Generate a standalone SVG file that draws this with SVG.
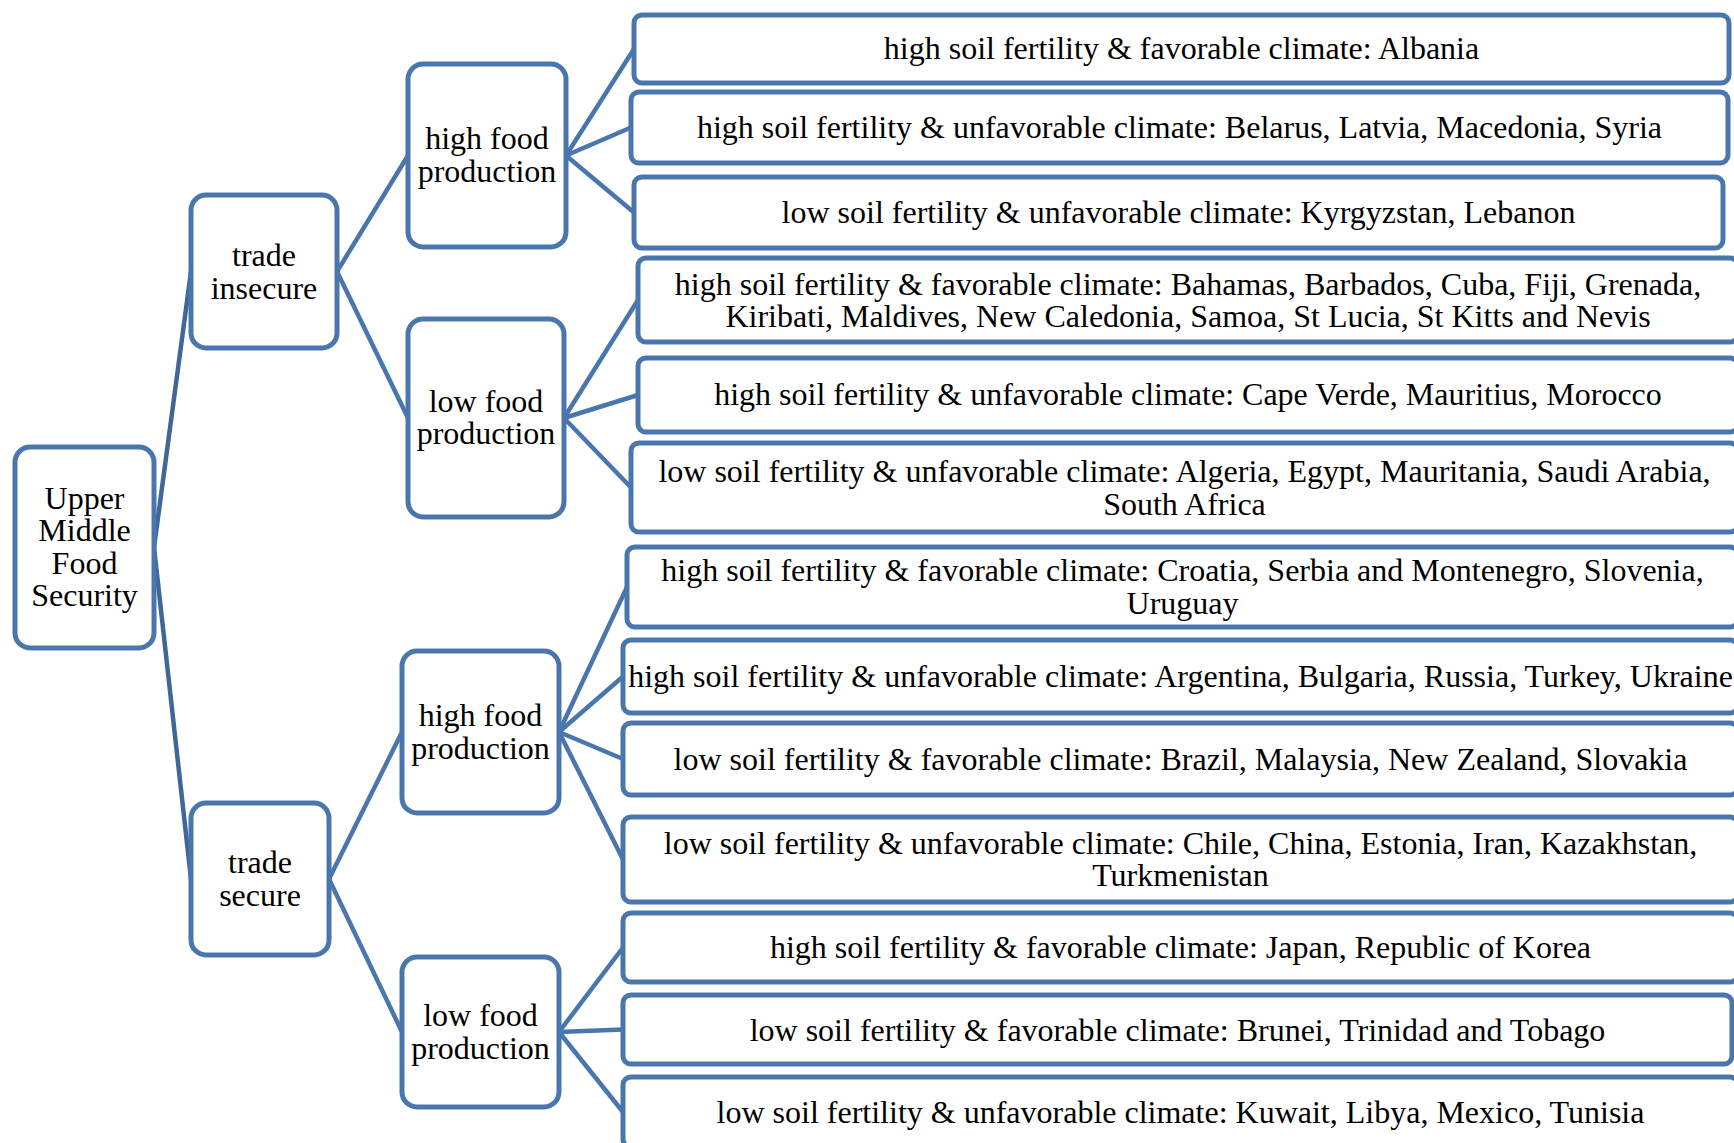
<svg xmlns="http://www.w3.org/2000/svg" width="1734" height="1143" viewBox="0 0 1734 1143">
<style>
.box{fill:#ffffff;stroke:#4A76AE;stroke-width:5}
.conn line{stroke:#4A76AE;stroke-width:4.5;stroke-linecap:round}
.conn line.root{stroke:#3F6898}
text{font-family:"Liberation Serif","Times New Roman",serif;font-size:32px;fill:#000;text-anchor:middle}
</style>
<rect width="1734" height="1143" fill="#ffffff"/>
<g id="connectors" class="conn">
<line class="root" x1="154" y1="547.5" x2="191" y2="271.5"/>
<line class="root" x1="154" y1="547.5" x2="191" y2="879"/>
<line x1="337" y1="271.5" x2="408" y2="155.5"/>
<line x1="337" y1="271.5" x2="408" y2="418"/>
<line x1="566" y1="155.5" x2="634" y2="49"/>
<line x1="566" y1="155.5" x2="631" y2="127.5"/>
<line x1="566" y1="155.5" x2="634" y2="212.5"/>
<line x1="564" y1="418" x2="638" y2="300"/>
<line x1="564" y1="418" x2="638" y2="395"/>
<line x1="564" y1="418" x2="631" y2="487.5"/>
<line x1="329" y1="879" x2="402" y2="732"/>
<line x1="329" y1="879" x2="402" y2="1032"/>
<line x1="559" y1="732" x2="627" y2="587"/>
<line x1="559" y1="732" x2="623" y2="676.5"/>
<line x1="559" y1="732" x2="623" y2="759"/>
<line x1="559" y1="732" x2="623" y2="859.5"/>
<line x1="559" y1="1032" x2="623" y2="947.5"/>
<line x1="559" y1="1032" x2="623" y2="1029.5"/>
<line x1="559" y1="1032" x2="623" y2="1112"/>
</g>
<g id="root">
<rect class="box" x="15" y="447" width="139" height="201" rx="15"/>
<text x="84.5" y="508.5">Upper</text>
<text x="84.5" y="541">Middle</text>
<text x="84.5" y="573.5">Food</text>
<text x="84.5" y="606">Security</text>
</g>
<g id="trade-insecure">
<rect class="box" x="191" y="195" width="146" height="153" rx="15"/>
<text x="264" y="266">trade</text>
<text x="264" y="298.5">insecure</text>
</g>
<g id="trade-secure">
<rect class="box" x="191" y="803" width="138" height="152" rx="15"/>
<text x="260" y="873">trade</text>
<text x="260" y="905.5">secure</text>
</g>
<g id="high-food-1">
<rect class="box" x="408" y="64" width="158" height="183" rx="15"/>
<text x="487" y="149">high food</text>
<text x="487" y="181.5">production</text>
</g>
<g id="low-food-1">
<rect class="box" x="408" y="319" width="156" height="198" rx="15"/>
<text x="486" y="411.5">low food</text>
<text x="486" y="444">production</text>
</g>
<g id="high-food-2">
<rect class="box" x="402" y="651" width="157" height="162" rx="15"/>
<text x="480.5" y="726">high food</text>
<text x="480.5" y="758.5">production</text>
</g>
<g id="low-food-2">
<rect class="box" x="402" y="957" width="157" height="150" rx="15"/>
<text x="480.5" y="1026">low food</text>
<text x="480.5" y="1058.5">production</text>
</g>
<g id="leaf-1">
<rect class="box" x="634" y="15" width="1095" height="68" rx="8"/>
<text x="1181.5" y="59">high soil fertility &amp; favorable climate: Albania</text>
</g>
<g id="leaf-2">
<rect class="box" x="631" y="92" width="1097" height="71" rx="8"/>
<text x="1179.5" y="138">high soil fertility &amp; unfavorable climate: Belarus, Latvia, Macedonia, Syria</text>
</g>
<g id="leaf-3">
<rect class="box" x="634" y="177" width="1089" height="71" rx="8"/>
<text x="1178.5" y="223">low soil fertility &amp; unfavorable climate: Kyrgyzstan, Lebanon</text>
</g>
<g id="leaf-4">
<rect class="box" x="638" y="258" width="1100" height="84" rx="8"/>
<text x="1188" y="294.5">high soil fertility &amp; favorable climate: Bahamas, Barbados, Cuba, Fiji, Grenada,</text>
<text x="1188" y="327">Kiribati, Maldives, New Caledonia, Samoa, St Lucia, St Kitts and Nevis</text>
</g>
<g id="leaf-5">
<rect class="box" x="638" y="358" width="1100" height="74" rx="8"/>
<text x="1188" y="405">high soil fertility &amp; unfavorable climate: Cape Verde, Mauritius, Morocco</text>
</g>
<g id="leaf-6">
<rect class="box" x="631" y="443" width="1107" height="89" rx="8"/>
<text x="1184.5" y="482">low soil fertility &amp; unfavorable climate: Algeria, Egypt, Mauritania, Saudi Arabia,</text>
<text x="1184.5" y="514.5">South Africa</text>
</g>
<g id="leaf-7">
<rect class="box" x="627" y="547" width="1111" height="80" rx="8"/>
<text x="1182.5" y="581">high soil fertility &amp; favorable climate: Croatia, Serbia and Montenegro, Slovenia,</text>
<text x="1182.5" y="613.5">Uruguay</text>
</g>
<g id="leaf-8">
<rect class="box" x="623" y="640" width="1115" height="73" rx="8"/>
<text x="1180.5" y="687">high soil fertility &amp; unfavorable climate: Argentina, Bulgaria, Russia, Turkey, Ukraine</text>
</g>
<g id="leaf-9">
<rect class="box" x="623" y="723" width="1115" height="72" rx="8"/>
<text x="1180.5" y="769.5">low soil fertility &amp; favorable climate: Brazil, Malaysia, New Zealand, Slovakia</text>
</g>
<g id="leaf-10">
<rect class="box" x="623" y="817" width="1115" height="85" rx="8"/>
<text x="1180.5" y="853.5">low soil fertility &amp; unfavorable climate: Chile, China, Estonia, Iran, Kazakhstan,</text>
<text x="1180.5" y="886">Turkmenistan</text>
</g>
<g id="leaf-11">
<rect class="box" x="623" y="913" width="1115" height="69" rx="8"/>
<text x="1180.5" y="958">high soil fertility &amp; favorable climate: Japan, Republic of Korea</text>
</g>
<g id="leaf-12">
<rect class="box" x="623" y="995" width="1109" height="69" rx="8"/>
<text x="1177.5" y="1040.5">low soil fertility &amp; favorable climate: Brunei, Trinidad and Tobago</text>
</g>
<g id="leaf-13">
<rect class="box" x="623" y="1077" width="1115" height="70" rx="8"/>
<text x="1180.5" y="1122.5">low soil fertility &amp; unfavorable climate: Kuwait, Libya, Mexico, Tunisia</text>
</g>
</svg>
